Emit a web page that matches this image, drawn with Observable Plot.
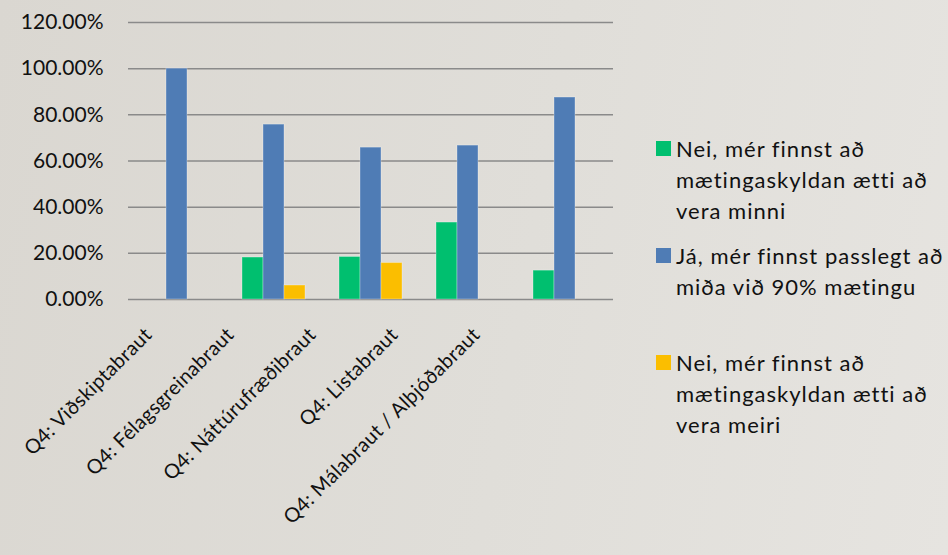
<!DOCTYPE html>
<html><head><meta charset="utf-8">
<script src="https://cdn.jsdelivr.net/npm/d3@7"></script>
<script src="https://cdn.jsdelivr.net/npm/@observablehq/plot@0.6"></script>
<style>
html,body{margin:0;padding:0;}
body{width:948px;height:555px;background:linear-gradient(100deg,#dad7d1 0%,#e0ded9 55%,#e6e4e0 100%);font-family:Lato,sans-serif;position:relative;overflow:hidden;}
#chart{position:absolute;left:0;top:0;width:640px;height:555px;}
#chart svg{position:absolute;left:0;top:0;}
#chart g[aria-label="x-axis tick label"] text{letter-spacing:0.3px;}
#legend{position:absolute;left:656px;top:133px;width:292px;}
.item{display:flex;align-items:flex-start;height:107px;}
.sw{width:15px;height:15px;margin-top:8px;margin-right:5px;flex:none;}
.lab{font-size:22px;line-height:31px;letter-spacing:1px;color:#111;width:284px;}
</style></head><body>
<div id="chart"></div><div id="legend"></div>
<script>
const categories = ["Q4: Viðskiptabraut", "Q4: Félagsgreinabraut", "Q4: Náttúrufræðibraut", "Q4: Listabraut", "Q4: Málabraut / Alþjóðabraut"];
const seriesNames = [
  "Nei, mér finnst að mætingaskyldan ætti að vera minni",
  "Já, mér finnst passlegt að miða við 90% mætingu",
  "Nei, mér finnst að mætingaskyldan ætti að vera meiri"
];
const minni = [0, 18.18, 18.42, 33.33, 12.5];
const passlegt = [100, 75.76, 65.79, 66.67, 87.5];
const meiri = [0, 6.06, 15.79, 0, 0];
const seriesColors = ["#00bf6f", "#4f7cb5", "#fbbe00"];
const yTicks = [0, 20, 40, 60, 80, 100, 120];

const seriesValues = [minni, passlegt, meiri];
const rows = [];
categories.forEach((c, i) => seriesNames.forEach((s, j) => rows.push({category: c, series: s, value: seriesValues[j][i]})));

const baseStyle = {background: "transparent", fontFamily: "Lato, sans-serif", fontSize: "21px", color: "#111", overflow: "visible"};

// bars, grid and y axis
const plot = Plot.plot({
  width: 640, height: 555,
  marginLeft: 126, marginRight: 25, marginTop: 22, marginBottom: 256,
  style: baseStyle,
  fx: {domain: categories, padding: 0, label: null, axis: null},
  x: {domain: seriesNames, paddingInner: 0, paddingOuter: 0.75, axis: null},
  y: {domain: [0, 120], axis: null},
  color: {domain: seriesNames, range: seriesColors},
  marks: [
    Plot.gridY(yTicks, {stroke: "#8a8a8a", strokeOpacity: 1, strokeWidth: 1.5}),
    Plot.barY(rows.filter(d => d.value > 0), {fx: "category", x: "series", y: "value", fill: "series", stroke: "#ffffff", strokeOpacity: 0.3, strokeWidth: 1}),
    Plot.axisY({ticks: yTicks, tickSize: 0, tickPadding: 25, tickFormat: d => d.toFixed(2) + "%", fontSize: 21, fill: "#111", label: null}),
    Plot.axisY({ticks: yTicks, tickSize: 0, line: true, stroke: "#8a8a8a", strokeWidth: 1.5, tickFormat: () => "", label: null})
  ]
});
document.getElementById("chart").appendChild(plot);

// category labels (the reference lays them out on a tighter spacing than the bar groups)
const labels = Plot.plot({
  width: 640, height: 555,
  marginLeft: 147, marginRight: 164, marginTop: 22, marginBottom: 256,
  style: {...baseStyle, pointerEvents: "none"},
  x: {type: "point", domain: categories, padding: 0, axis: null},
  marks: [
    Plot.axisX({anchor: "bottom", tickRotate: -45, tickSize: 0, tickPadding: 10, label: null, fontSize: 20, fill: "#111", dy: 22})
  ]
});
document.getElementById("chart").appendChild(labels);

const legend = d3.select("#legend");
seriesNames.forEach((s, j) => {
  const it = legend.append("div").attr("class", "item");
  it.append("div").attr("class", "sw").style("background", seriesColors[j]);
  it.append("div").attr("class", "lab").text(s);
});
</script>
</body></html>
